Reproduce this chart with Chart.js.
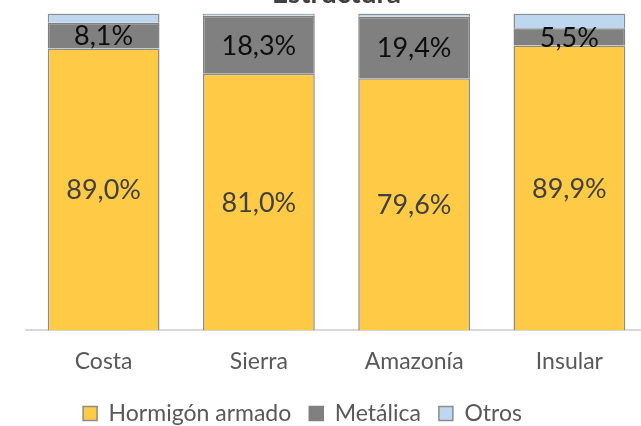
<!DOCTYPE html>
<html>
<head>
<meta charset="utf-8">
<script src="https://cdn.jsdelivr.net/npm/chart.js@4/dist/chart.umd.min.js"></script>
<style>
  html, body { margin: 0; padding: 0; background: #fff; overflow: hidden; }
  #wrap { position: absolute; left: 0; top: -34px; width: 660px; height: 473px; }
</style>
</head>
<body>
<div id="wrap"><canvas id="chart" width="660" height="473"></canvas></div>
<script>
const regions = ["Costa", "Sierra", "Amazonía", "Insular"];
const hormigon = [89.0, 81.0, 79.6, 89.9];
const metalica = [8.1, 18.3, 19.4, 5.5];
const otros = [2.9, 0.7, 1.0, 4.6];

const FONT = "'Century Gothic', Lato, 'DejaVu Sans', sans-serif";

// etiquetas dentro de las barras (sin plugin de datalabels)
const barLabels = {
    id: "barLabels",
    afterDatasetsDraw(chart) {
        const ctx = chart.ctx;
        ctx.save();
        ctx.font = "27px " + FONT;
        ctx.textAlign = "center";
        ctx.textBaseline = "middle";
        [0, 1].forEach((di) => {
            const meta = chart.getDatasetMeta(di);
            const vals = chart.data.datasets[di].data;
            ctx.fillStyle = di === 0 ? "#404040" : "#0d0d0d";
            meta.data.forEach((bar, i) => {
                const p = bar.getProps(["x", "y", "base"], true);
                const txt = vals[i].toFixed(1).replace(".", ",") + "%";
                ctx.fillText(txt, p.x, (p.y + p.base) / 2 + 1);
            });
        });
        ctx.restore();
    },
};

// la leyenda del original queda algo a la izquierda del centro
const legendShift = {
    id: "legendShift",
    afterLayout(chart) {
        if (chart.legend) {
            chart.legend.left -= 34;
            chart.legend.right -= 34;
        }
    },
};

const config = {
    type: "bar",
    data: {
        labels: regions,
        datasets: [
            {
                label: "Hormigón armado",
                data: hormigon,
                backgroundColor: "#FFCB47",
                borderColor: "#8C8C8C",
                borderWidth: 1.5,
            },
            {
                label: "Metálica",
                data: metalica,
                backgroundColor: "#808080",
                borderColor: "#808080",
                borderWidth: 1.5,
            },
            {
                label: "Otros",
                data: otros,
                backgroundColor: "#BDD7EE",
                borderColor: "#8C8C8C",
                borderWidth: 1.5,
            },
        ],
    },
    options: {
        responsive: false,
        animation: false,
        devicePixelRatio: 1,
        layout: { padding: { left: 26, right: 13, top: 0, bottom: 4 } },
        datasets: {
            bar: { barPercentage: 0.72, categoryPercentage: 1.0 },
        },
        scales: {
            x: {
                stacked: true,
                grid: { display: false },
                border: { display: true, color: "#D9D9D9", width: 2 },
                ticks: {
                    color: "#595959",
                    font: { family: FONT, size: 23 },
                    padding: 9,
                },
            },
            y: {
                stacked: true,
                display: false,
                min: 0,
                max: 100,
            },
        },
        plugins: {
            title: {
                display: true,
                text: "Estructura",
                color: "#404040",
                font: { family: FONT, size: 28, weight: "bold" },
                padding: { top: 11, bottom: 3 },
            },
            legend: {
                position: "bottom",
                labels: {
                    color: "#595959",
                    font: { family: FONT, size: 23 },
                    boxWidth: 14,
                    boxHeight: 14,
                    padding: 18,
                },
            },
            tooltip: { enabled: false },
        },
    },
    plugins: [barLabels, legendShift],
};

new Chart(document.getElementById("chart"), config);
</script>
</body>
</html>
